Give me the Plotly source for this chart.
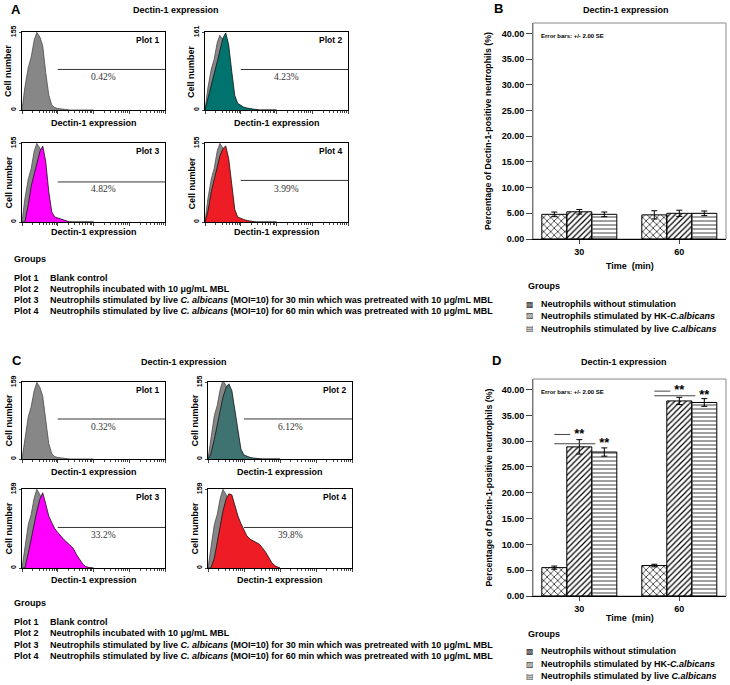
import numpy as np
import plotly.graph_objects as go

W, H = 730, 685

# ---- flow cytometry histograms (fluorescence channel, log scale) ----
fl = [1.0, 1.2, 1.5, 1.8, 2.2, 2.6, 3.2, 3.8, 4.6, 5.6, 6.8, 8.2,
      10, 12, 15, 18, 22, 27, 33, 40, 50, 60, 75, 100]

gray_a = [0, 45, 85, 105, 140, 155, 145, 128, 75, 30, 10, 5, 3, 2, 1, 0.5, 0, 0, 0, 0, 0, 0, 0, 0]
teal_a = [0, 25, 55, 75, 100, 122, 150, 160, 135, 80, 30, 14, 9, 6, 4, 3, 1, 0, 0, 0, 0, 0, 0, 0]
magenta_a = [0, 0, 35, 70, 95, 118, 140, 150, 120, 60, 20, 10, 8, 6, 4, 2, 0, 0, 0, 0, 0, 0, 0, 0]
red_a = [0, 20, 60, 85, 110, 130, 145, 150, 125, 70, 25, 10, 7, 5, 3, 2, 0, 0, 0, 0, 0, 0, 0, 0]

gray_c = [0, 42, 88, 108, 142, 159, 148, 130, 78, 32, 11, 5, 3, 2, 1, 0.5, 0, 0, 0, 0, 0, 0, 0, 0]
teal_c = [0, 10, 40, 70, 100, 125, 145, 152, 138, 100, 55, 20, 8, 5, 3, 2, 1, 0, 0, 0, 0, 0, 0, 0]
magenta_c = [0, 0, 30, 60, 90, 115, 140, 152, 130, 105, 92, 80, 72, 65, 57, 52, 46, 40, 28, 18, 8, 3, 1, 0]
red_c = [0, 0, 20, 50, 85, 115, 140, 150, 148, 125, 105, 90, 78, 65, 58, 55, 52, 48, 40, 32, 20, 10, 4, 0]

ymax_a = [155, 161, 155, 155]
ymax_c = [159, 155, 159, 159]
pct_a = ["0.42%", "4.23%", "4.82%", "3.99%"]
pct_c = ["0.32%", "6.12%", "33.2%", "39.8%"]
gate_a = [81, 84, 79, 82]
gate_c = [83, 81, 82, 82]

plot_names = ["Plot 1", "Plot 2", "Plot 3", "Plot 4"]
plot_desc = [
    "Blank control",
    "Neutrophils incubated with 10 μg/mL MBL",
    "Neutrophils stimulated by live <i>C. albicans</i> (MOI=10) for 30 min which was pretreated with 10 μg/mL MBL",
    "Neutrophils stimulated by live <i>C. albicans</i> (MOI=10) for 60 min which was pretreated with 10 μg/mL MBL",
]

# ---- bar charts ----
times = ["30", "60"]
group_names = ["Neutrophils without stimulation",
               "Neutrophils stimulated by HK-<i>C.albicans</i>",
               "Neutrophils stimulated by live <i>C.albicans</i>"]
b_means = [[4.8, 4.7], [5.3, 5.0], [4.8, 5.0]]
b_err = [[0.45, 0.8], [0.45, 0.6], [0.45, 0.45]]
d_means = [[5.5, 5.9], [28.9, 37.8], [27.9, 37.5]]
d_err = [[0.3, 0.25], [1.4, 0.7], [0.8, 0.75]]
sig_hk_y = [31.3, 39.7]
sig_live_y = [29.5, 38.8]

FONT = "Liberation Sans"


def dx(a, b):
    return [a / W, b / W]


def dy(top, bottom):
    return [1 - bottom / H, 1 - top / H]


def px(x, y):
    return x / W, 1 - y / H


fig = go.Figure()
layout = {}
ann = []
shapes = []


def text(x, y, s, size=9, angle=0, anchor="center", bold=True, family=FONT, color="black"):
    X, Y = px(x, y)
    ann.append(dict(x=X, y=Y, xref="paper", yref="paper", text=s, showarrow=False,
                    textangle=angle, xanchor=anchor, yanchor="middle",
                    font=dict(family=family, size=size, color=color,
                              weight="bold" if bold else "normal")))


hist_boxes = [(22, 165, 32, 110), (205, 348, 32, 110), (22, 165, 143, 222), (205, 348, 143, 222),
              (22, 165, 382, 459), (208, 352, 382, 459), (22, 165, 489, 568), (208, 352, 489, 568)]
fills = [None, "#00736f", "#ff00ff", "#ee1c24", None, "#3f7372", "#ff00ff", "#ee1c24"]
colored = [None, teal_a, magenta_a, red_a, None, teal_c, magenta_c, red_c]
xlab_y = [123, 123, 232, 232, 472, 472, 580, 580]

for i, (l, r, t, b) in enumerate(hist_boxes):
    n = i + 1
    xa, ya = ("x", "y") if n == 1 else (f"x{n}", f"y{n}")
    gray = gray_a if i < 4 else gray_c
    ymax = (ymax_a + ymax_c)[i]
    gate = (gate_a + gate_c)[i]
    fig.add_trace(go.Scatter(x=fl, y=gray, mode="lines", fill="tozeroy", fillcolor="#878787",
                             line=dict(color="#4a4a4a", width=0.8), xaxis=xa, yaxis=ya, showlegend=False))
    if colored[i] is not None:
        fig.add_trace(go.Scatter(x=fl, y=colored[i], mode="lines", fill="tozeroy", fillcolor=fills[i],
                                 line=dict(color="#111111", width=0.8), xaxis=xa, yaxis=ya, showlegend=False))
    fig.add_trace(go.Scatter(x=[10, 10000], y=[gate, gate], mode="lines",
                             line=dict(color="black", width=0.8), xaxis=xa, yaxis=ya, showlegend=False))
    layout[f"xaxis{'' if n == 1 else n}"] = dict(
        domain=dx(l, r), anchor=ya, type="log", range=[0, 4], showline=True, linecolor="black",
        linewidth=1, mirror=True, ticks="outside", ticklen=3, dtick=1, showticklabels=False,
        showgrid=False, zeroline=False, minor=dict(ticks="outside", ticklen=2))
    layout[f"yaxis{'' if n == 1 else n}"] = dict(
        domain=dy(t, b), anchor=xa, range=[0, ymax * 1.005], tickvals=[0, ymax],
        ticktext=["0", str(ymax)], tickangle=-90, ticks="outside", ticklen=2,
        showline=True, linecolor="black", linewidth=1, mirror=True, showgrid=False,
        zeroline=False, tickfont=dict(family=FONT, size=7, weight="bold"))
    ann.append(dict(x=0.97, y=0.9, xref=f"{xa} domain", yref=f"{ya} domain", text=plot_names[i % 4],
                    showarrow=False, xanchor="right", yanchor="middle",
                    font=dict(family=FONT, size=8.5, weight="bold")))
    ann.append(dict(x=np.log10(190), y=ymax * 0.42, xref=xa, yref=ya, text=(pct_a + pct_c)[i],
                    showarrow=False, font=dict(family="Liberation Serif", size=9.5, color="#333")))
    text(l - 14, (t + b) / 2, "Cell number", angle=-90)
    text((l + r) / 2, xlab_y[i], "Dectin-1 expression")

# panel letters and titles
text(16, 9, "A", size=13)
text(498, 8, "B", size=13)
text(17, 361, "C", size=13)
text(496, 361, "D", size=13)
text(176, 10, "Dectin-1 expression")
text(184, 362, "Dectin-1 expression")
text(626, 10, "Dectin-1 expression")
text(624, 362, "Dectin-1 expression")

# text legends for A and C
for gy, rows in ((259, [278, 289, 300, 311]), (603, [622, 633, 645, 656])):
    text(12, gy, "Groups", anchor="left")
    for k in range(4):
        text(12, rows[k], plot_names[k], anchor="left")
        text(48, rows[k], plot_desc[k], anchor="left")

# bar panels
patterns = [dict(shape="x", fgcolor="black", size=5, solidity=0.25),
            dict(shape="/", fgcolor="black", size=4, solidity=0.3),
            dict(shape="-", fgcolor="#777", size=4, solidity=0.35)]
icons = ["▩", "▨", "▤"]
bar_panels = [(9, 23, 239, b_means, b_err, 286, [304, 316, 329], 266),
              (10, 379, 596, d_means, d_err, 634, [651, 664, 676], 618)]
for n, t, b, means, errs, gy, rows, tx_y in bar_panels:
    xa, ya = f"x{n}", f"y{n}"
    for g in range(3):
        fig.add_trace(go.Bar(x=[0, 1], y=means[g], xaxis=xa, yaxis=ya, showlegend=False,
                             marker=dict(color="white", line=dict(color="black", width=1),
                                         pattern=patterns[g]),
                             error_y=dict(type="data", array=errs[g], color="black",
                                          thickness=1, width=3)))
    layout[f"xaxis{n}"] = dict(domain=dx(533, 726), anchor=ya, range=[-0.463, 1.467],
                               tickvals=[0, 1], ticktext=times, ticks="outside", ticklen=4,
                               showline=True, linecolor="black", linewidth=1.2, showgrid=False,
                               zeroline=False, tickfont=dict(family=FONT, size=9, weight="bold"))
    layout[f"yaxis{n}"] = dict(domain=dy(t, b), anchor=xa, range=[0, 42.05], dtick=5,
                               tickformat=".2f", ticks="outside", ticklen=6, showline=True,
                               linecolor="#777", linewidth=1, showgrid=False, zeroline=False,
                               tickfont=dict(family=FONT, size=9, weight="bold"))
    shapes.append(dict(type="rect", xref=f"{xa} domain", yref=f"{ya} domain", x0=0, x1=1, y0=0, y1=1,
                       line=dict(color="#888", width=1), layer="below"))
    ann.append(dict(x=0.03, y=0.965, xref=f"{xa} domain", yref=f"{ya} domain",
                    text="Error bars: +/- 2.00 SE", showarrow=False, xanchor="left",
                    font=dict(family=FONT, size=6, weight="bold")))
    text(488, (t + b) / 2, "Percentage of Dectin-1-positive neutrophils (%)", angle=-90, size=8.8)
    text(630, tx_y, "Time  (min)")
    text(526, gy, "Groups", anchor="left")
    for g in range(3):
        text(530, rows[g], icons[g], size=8, family="DejaVu Sans", bold=False, color="#333")
        text(539, rows[g], group_names[g], anchor="left")

# significance marks in panel D
for ti in range(2):
    for yv, end, star in ((sig_hk_y[ti], -0.09, 0.0), (sig_live_y[ti], 0.16, 0.25)):
        fig.add_trace(go.Scatter(x=[ti - 0.25, ti + end], y=[yv, yv], mode="lines",
                                 line=dict(color="#444", width=1), xaxis="x10", yaxis="y10",
                                 showlegend=False))
        fig.add_trace(go.Scatter(x=[ti + star], y=[yv], mode="text", text=["**"],
                                 textposition="middle center",
                                 textfont=dict(family=FONT, size=13, color="black", weight="bold"),
                                 xaxis="x10", yaxis="y10", showlegend=False))

fig.update_layout(width=W, height=H, margin=dict(l=0, r=0, t=0, b=0), template="none",
                  paper_bgcolor="white", plot_bgcolor="white", barmode="group",
                  bargap=0.25, bargroupgap=0, font=dict(family=FONT, color="black"),
                  hovermode=False, annotations=ann, shapes=shapes, **layout)

# drop the default page margin so the figure fills the window exactly
fig.write_html("out.html", config={"displayModeBar": False},
               post_script="document.body.style.margin = '0';")
